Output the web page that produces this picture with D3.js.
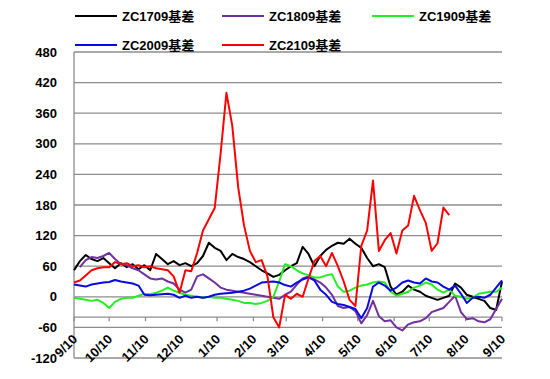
<!DOCTYPE html>
<html lang="zh">
<head>
<meta charset="utf-8">
<title>ZC基差</title>
<script src="https://d3js.org/d3.v7.min.js"></script>
<style>
  body { margin: 0; background: #fff; }
  text { font-family: "Liberation Sans", "Noto Sans CJK SC", sans-serif; font-weight: bold; font-size: 13px; fill: #000; }
</style>
</head>
<body>
<script>
// size of the picture and the plot box
let w = 550, h = 379;
let plotLeft = 74, plotRight = 502, plotTop = 52, plotBottom = 358;

// x axis: 9/10 to 9/10 of the next year, one value every 5 days
let startDate = new Date(2016, 8, 10);
let stepDays = 5;
let tickLabels = ["9/10", "10/10", "11/10", "12/10", "1/10", "2/10", "3/10", "4/10", "5/10", "6/10", "7/10", "8/10", "9/10"];
let yTicks = [-120, -60, 0, 60, 120, 180, 240, 300, 360, 420, 480];

let seriesNames = ["ZC1709基差", "ZC1809基差", "ZC1909基差", "ZC2009基差", "ZC2109基差"];
let seriesColors = ["#000000", "#7030a0", "#22ee22", "#0a0ae0", "#ff0000"];

// values
let zc1709 = [52, 70, 82, 74, 70, 76, 66, 56, 66, 58, 64, 54, 62, 52, 84, 74, 64, 70, 62, 66,
  60, 66, 80, 106, 96, 90, 72, 84, 78, 74, 68, 60, 52, 46, 39, 43, 52, 60, 66, 98,
  84, 60, 80, 92, 100, 106, 104, 114, 104, 96, 76, 60, 64, 58, 20, 4, 10, 22, 14, 10,
  2, -2, -6, -2, 2, 26, 18, 4, 0, -4, -8, -22, -26, 30];
let zc1809 = [null, 58, 72, 78, 76, 80, 86, 74, 64, 62, 56, 52, 44, 36, 34, 36, 30, 26, 14, 8,
  14, 40, 44, 36, 28, 18, 14, 12, 10, 8, 6, 4, 2, 0, -2, -4, 4, 10, 24, 36,
  40, 34, 28, 18, 4, -18, -22, -20, -28, -52, -36, -8, -38, -48, -46, -60, -66, -54, -50, -48,
  -42, -30, -26, -22, -10, 2, -30, -44, -42, -48, -50, -44, -24, -4];
let zc1909 = [-2, -4, -6, -8, -6, -12, -22, -10, -4, -2, -2, 2, 6, 5, 8, 12, 18, 12, 8, 4,
  2, 0, -2, 0, -2, -2, -4, -6, -8, -12, -12, -14, -12, -8, 0, 30, 64, 60, 52, 46,
  42, 38, 38, 42, 44, 20, 10, 12, 18, 22, 24, 28, 30, 28, 10, 2, 6, 10, 18, 22,
  28, 24, 14, 8, 14, 2, 0, -4, -2, 6, 8, 10, 10, 18];
let zc2009 = [24, 22, 20, 24, 26, 28, 29, 33, 30, 28, 26, 22, 4, 3, 4, 5, 6, 4, -2, 2,
  -2, 0, -2, 0, 4, 6, 7, 8, 10, 12, 16, 22, 28, 29, 30, 28, 23, 20, 28, 34,
  38, 32, 14, 4, -10, -14, -16, -20, -24, -42, -22, 20, 28, 22, 12, 18, 28, 32, 28, 26,
  36, 30, 28, 20, 14, 22, 6, -12, -2, 0, -2, 4, 18, 32];
let zc2109 = [28, 32, 42, 52, 56, 58, 58, 68, 64, 66, 60, 62, 58, 60, 56, 54, 52, 40, 8, 52,
  50, 86, 130, 152, 174, 280, 400, 335, 215, 140, 90, 68, 72, 40, -40, -60, 4, -4, 6, 0,
  36, 70, 80, 60, 86, 60, 30, -6, -18, 100, 130, 228, 90, 111, 125, 85, 130, 140, 198, 170,
  145, 90, 105, 175, 160];

let series = [zc1709, zc1809, zc1909, zc2009, zc2109];

//Create scale functions
let endDate = d3.timeMonth.offset(startDate, 12);
let xScale = d3.scaleTime().domain([startDate, endDate]).range([plotLeft, plotRight]);
let yScale = d3.scaleLinear().domain([-120, 480]).range([plotBottom, plotTop]);
let tickDates = tickLabels.map(function(d, i) { return d3.timeMonth.offset(startDate, i); });

//Create SVG element
let svg = d3.select("body").append("svg").attr("width", w).attr("height", h);

//Grid lines
svg.append("g").selectAll("line")
  .data(yTicks)
  .enter().append("line")
  .attr("x1", plotLeft).attr("x2", plotRight)
  .attr("y1", function(d) { return yScale(d); })
  .attr("y2", function(d) { return yScale(d); })
  .attr("stroke", "#8c8c8c").attr("stroke-width", 1.3);

//Y axis line and labels
svg.append("line")
  .attr("x1", plotLeft).attr("x2", plotLeft).attr("y1", plotTop).attr("y2", plotBottom)
  .attr("stroke", "#8c8c8c").attr("stroke-width", 1.3);
svg.append("g").selectAll("text")
  .data(yTicks)
  .enter().append("text")
  .attr("x", 57)
  .attr("y", function(d) { return yScale(d); })
  .attr("dy", "0.35em")
  .attr("text-anchor", "end")
  .text(function(d) { return d; });

//X axis sits at -40 with ticks hanging down
let axisY = yScale(-40);
svg.append("line")
  .attr("x1", plotLeft).attr("x2", plotRight).attr("y1", axisY).attr("y2", axisY)
  .attr("stroke", "#8c8c8c").attr("stroke-width", 1.3);
svg.append("g").selectAll("line")
  .data(tickDates)
  .enter().append("line")
  .attr("x1", function(d) { return xScale(d); })
  .attr("x2", function(d) { return xScale(d); })
  .attr("y1", axisY).attr("y2", axisY + 4)
  .attr("stroke", "#8c8c8c").attr("stroke-width", 1.3);
svg.append("g").selectAll("text")
  .data(tickDates)
  .enter().append("text")
  .attr("text-anchor", "end")
  .attr("transform", function(d) { return "translate(" + (xScale(d) + 4) + ",340) rotate(-45)"; })
  .text(function(d, i) { return tickLabels[i]; });

//Lines
let line = d3.line()
  .defined(function(d) { return d != null; })
  .x(function(d, i) { return xScale(d3.timeDay.offset(startDate, i * stepDays)); })
  .y(function(d) { return yScale(d); });

svg.append("g").selectAll("path")
  .data(series)
  .enter().append("path")
  .attr("d", line)
  .attr("fill", "none")
  .attr("stroke", function(d, i) { return seriesColors[i]; })
  .attr("stroke-width", 2)
  .attr("stroke-linejoin", "round");

//Legend, two rows
let legendPos = [[75, 16], [222, 16], [372, 16], [75, 45], [222, 45]];
let legend = svg.append("g").selectAll("g")
  .data(seriesNames)
  .enter().append("g")
  .attr("transform", function(d, i) { return "translate(" + legendPos[i][0] + "," + legendPos[i][1] + ")"; });
legend.append("line")
  .attr("x1", 0).attr("x2", 42).attr("y1", 0).attr("y2", 0)
  .attr("stroke", function(d, i) { return seriesColors[i]; })
  .attr("stroke-width", 2);
legend.append("text")
  .attr("x", 47).attr("dy", "0.35em")
  .text(function(d) { return d; });
</script>
</body>
</html>
